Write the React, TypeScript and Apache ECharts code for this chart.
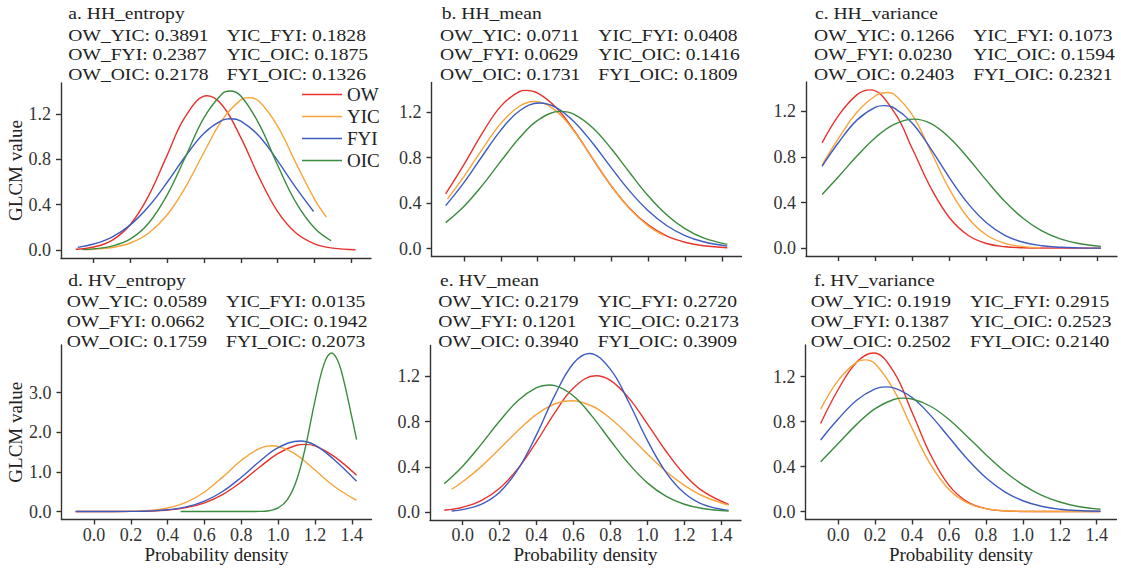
import React, { useEffect, useRef } from 'react';
import * as echarts from 'echarts';

// ---------- data ----------
const NAMES = ['OW', 'YIC', 'FYI', 'OIC'];
const COLORS = ['#E8322C', '#F7A43B', '#3D5BC0', '#3B8B3F'];
const X_TICKS = [0, 0.2, 0.4, 0.6, 0.8, 1.0, 1.2, 1.4];
const Y_TICKS_STD = [0, 0.4, 0.8, 1.2];
const Y_TICKS_D = [0, 1, 2, 3];
const TITLES = ['a. HH_entropy', 'b. HH_mean', 'c. HH_variance', 'd. HV_entropy', 'e. HV_mean', 'f. HV_variance'];

const STATS_A = ['OW_YIC: 0.3891', 'YIC_FYI: 0.1828', 'OW_FYI: 0.2387', 'YIC_OIC: 0.1875', 'OW_OIC: 0.2178', 'FYI_OIC: 0.1326'];
const STATS_B = ['OW_YIC: 0.0711', 'YIC_FYI: 0.0408', 'OW_FYI: 0.0629', 'YIC_OIC: 0.1416', 'OW_OIC: 0.1731', 'FYI_OIC: 0.1809'];
const STATS_C = ['OW_YIC: 0.1266', 'YIC_FYI: 0.1073', 'OW_FYI: 0.0230', 'YIC_OIC: 0.1594', 'OW_OIC: 0.2403', 'FYI_OIC: 0.2321'];
const STATS_D = ['OW_YIC: 0.0589', 'YIC_FYI: 0.0135', 'OW_FYI: 0.0662', 'YIC_OIC: 0.1942', 'OW_OIC: 0.1759', 'FYI_OIC: 0.2073'];
const STATS_E = ['OW_YIC: 0.2179', 'YIC_FYI: 0.2720', 'OW_FYI: 0.1201', 'YIC_OIC: 0.2173', 'OW_OIC: 0.3940', 'FYI_OIC: 0.3909'];
const STATS_F = ['OW_YIC: 0.1919', 'YIC_FYI: 0.2915', 'OW_FYI: 0.1387', 'YIC_OIC: 0.2523', 'OW_OIC: 0.2502', 'FYI_OIC: 0.2140'];

// a. HH_entropy
const HHE_OW = [[-0.097, 0.007], [0, 0.027], [0.1, 0.086], [0.2, 0.226], [0.3, 0.482], [0.4, 0.838], [0.5, 1.182], [0.617, 1.362], [0.7, 1.276], [0.8, 0.992], [0.9, 0.639], [1.0, 0.34], [1.1, 0.15], [1.2, 0.055], [1.3, 0.017], [1.423, 0.003]];
const HHE_YIC = [[-0.05, 0.004], [0, 0.007], [0.1, 0.022], [0.2, 0.062], [0.3, 0.15], [0.4, 0.311], [0.5, 0.558], [0.6, 0.863], [0.7, 1.151], [0.8, 1.325], [0.845, 1.345], [0.9, 1.31], [1.0, 1.092], [1.1, 0.765], [1.2, 0.45], [1.265, 0.29]];
const HHE_FYI = [[-0.086, 0.024], [0, 0.053], [0.1, 0.115], [0.2, 0.222], [0.3, 0.386], [0.4, 0.598], [0.5, 0.83], [0.6, 1.031], [0.7, 1.146], [0.745, 1.159], [0.8, 1.138], [0.9, 1.005], [1.0, 0.787], [1.1, 0.548], [1.195, 0.34]];
const HHE_OIC = [[-0.06, 0.004], [0, 0.01], [0.1, 0.034], [0.2, 0.098], [0.3, 0.239], [0.4, 0.487], [0.5, 0.826], [0.6, 1.169], [0.7, 1.382], [0.742, 1.404], [0.8, 1.36], [0.9, 1.109], [1.0, 0.748], [1.1, 0.418], [1.2, 0.194], [1.29, 0.082]];

// b. HH_mean
const HHM_OW = [[-0.1, 0.481], [0, 0.74], [0.1, 1.017], [0.2, 1.252], [0.3, 1.379], [0.337, 1.39], [0.4, 1.366], [0.5, 1.239], [0.6, 1.031], [0.7, 0.786], [0.8, 0.55], [0.9, 0.353], [1.0, 0.208], [1.1, 0.112], [1.2, 0.056], [1.3, 0.025], [1.43, 0.008]];
const HHM_YIC = [[-0.09, 0.436], [0, 0.634], [0.1, 0.877], [0.2, 1.1], [0.3, 1.251], [0.382, 1.293], [0.5, 1.208], [0.6, 1.025], [0.7, 0.789], [0.8, 0.551], [0.9, 0.349], [1.0, 0.2], [1.085, 0.116]];
const HHM_FYI = [[-0.1, 0.378], [0, 0.582], [0.1, 0.816], [0.2, 1.041], [0.3, 1.209], [0.409, 1.279], [0.5, 1.239], [0.6, 1.111], [0.7, 0.923], [0.8, 0.709], [0.9, 0.505], [1.0, 0.332], [1.1, 0.203], [1.2, 0.114], [1.3, 0.06], [1.43, 0.022]];
const HHM_OIC = [[-0.1, 0.228], [0, 0.372], [0.1, 0.558], [0.2, 0.768], [0.3, 0.971], [0.4, 1.127], [0.526, 1.206], [0.6, 1.178], [0.7, 1.06], [0.8, 0.877], [0.9, 0.666], [1.0, 0.464], [1.1, 0.297], [1.2, 0.175], [1.3, 0.094], [1.43, 0.037]];

// c. HH_variance
const HHV_OW = [[-0.09, 0.923], [0, 1.165], [0.1, 1.347], [0.171, 1.388], [0.3, 1.195], [0.4, 0.867], [0.5, 0.525], [0.6, 0.266], [0.7, 0.113], [0.8, 0.04], [0.9, 0.012], [1.0, 0.003], [1.2, 0.0], [1.42, 0.0]];
const HHV_YIC = [[-0.09, 0.731], [0, 0.965], [0.1, 1.194], [0.2, 1.337], [0.264, 1.365], [0.3, 1.35], [0.4, 1.164], [0.5, 0.845], [0.6, 0.516], [0.7, 0.266], [0.8, 0.115], [0.9, 0.042], [1.0, 0.013], [1.09, 0.003]];
const HHV_FYI = [[-0.09, 0.718], [0, 0.929], [0.1, 1.125], [0.2, 1.237], [0.246, 1.25], [0.3, 1.23], [0.4, 1.094], [0.5, 0.869], [0.6, 0.617], [0.7, 0.392], [0.8, 0.222], [0.9, 0.112], [1.0, 0.051], [1.1, 0.021], [1.2, 0.007], [1.3, 0.002], [1.42, 0.0]];
const HHV_OIC = [[-0.09, 0.47], [0, 0.628], [0.1, 0.81], [0.2, 0.971], [0.3, 1.086], [0.408, 1.132], [0.5, 1.092], [0.6, 0.969], [0.7, 0.791], [0.8, 0.594], [0.9, 0.409], [1.0, 0.26], [1.1, 0.151], [1.2, 0.081], [1.3, 0.04], [1.42, 0.015]];

// d. HV_entropy
const HVE_OW = [[-0.1, 0], [0, 0], [0.1, 0], [0.2, 0.004], [0.3, 0.013], [0.4, 0.038], [0.5, 0.098], [0.6, 0.221], [0.7, 0.436], [0.8, 0.749], [0.9, 1.123], [1.0, 1.467], [1.1, 1.672], [1.145, 1.695], [1.2, 1.656], [1.3, 1.405], [1.426, 0.915]];
const HVE_YIC = [[-0.1, 0], [0, 0], [0.1, 0.002], [0.2, 0.008], [0.3, 0.03], [0.4, 0.091], [0.5, 0.232], [0.6, 0.494], [0.7, 0.875], [0.8, 1.293], [0.9, 1.596], [0.966, 1.66], [1.0, 1.644], [1.1, 1.428], [1.2, 1.048], [1.3, 0.65], [1.426, 0.28]];
const HVE_FYI = [[-0.1, 0], [0, 0], [0.1, 0], [0.2, 0.004], [0.3, 0.015], [0.4, 0.045], [0.5, 0.117], [0.6, 0.263], [0.7, 0.513], [0.8, 0.866], [0.9, 1.269], [1.0, 1.612], [1.118, 1.78], [1.2, 1.677], [1.3, 1.326], [1.426, 0.763]];
const HVE_OIC = [[0.47, 0], [0.6, 0], [0.7, 0], [0.8, 0], [0.9, 0.004], [0.95, 0.022], [1.0, 0.091], [1.05, 0.3], [1.1, 0.791], [1.15, 1.666], [1.2, 2.793], [1.25, 3.73], [1.29, 4.0], [1.32, 3.84], [1.35, 3.42], [1.4, 2.383], [1.426, 1.815]];

// e. HV_mean
const HVM_OW = [[-0.1, 0.016], [0, 0.043], [0.1, 0.101], [0.2, 0.211], [0.3, 0.386], [0.4, 0.622], [0.5, 0.881], [0.6, 1.098], [0.721, 1.206], [0.8, 1.165], [0.9, 1.008], [1.0, 0.78], [1.1, 0.54], [1.2, 0.334], [1.3, 0.185], [1.44, 0.067]];
const HVM_YIC = [[-0.06, 0.202], [0, 0.268], [0.1, 0.402], [0.2, 0.56], [0.3, 0.722], [0.4, 0.864], [0.5, 0.958], [0.586, 0.985], [0.7, 0.938], [0.8, 0.828], [0.9, 0.678], [1.0, 0.514], [1.1, 0.361], [1.2, 0.236], [1.3, 0.142], [1.44, 0.062]];
const HVM_FYI = [[-0.06, 0.01], [0, 0.022], [0.1, 0.068], [0.2, 0.176], [0.3, 0.379], [0.4, 0.685], [0.5, 1.037], [0.6, 1.316], [0.685, 1.403], [0.8, 1.262], [0.9, 0.969], [1.0, 0.634], [1.1, 0.354], [1.2, 0.168], [1.3, 0.068], [1.44, 0.015]];
const HVM_OIC = [[-0.1, 0.251], [0, 0.406], [0.1, 0.599], [0.2, 0.805], [0.3, 0.986], [0.4, 1.1], [0.468, 1.124], [0.5, 1.118], [0.6, 1.027], [0.7, 0.849], [0.8, 0.633], [0.9, 0.426], [1.0, 0.258], [1.1, 0.141], [1.2, 0.069], [1.3, 0.031], [1.44, 0.008]];

// f. HV_variance
const HVV_OW = [[-0.095, 0.783], [0, 1.085], [0.1, 1.328], [0.192, 1.41], [0.3, 1.243], [0.4, 0.883], [0.5, 0.505], [0.6, 0.233], [0.7, 0.086], [0.8, 0.026], [0.9, 0.006], [1.0, 0.001], [1.2, 0], [1.42, 0]];
const HVV_YIC = [[-0.095, 0.91], [0, 1.166], [0.1, 1.328], [0.147, 1.348], [0.2, 1.313], [0.3, 1.083], [0.4, 0.74], [0.5, 0.419], [0.6, 0.197], [0.7, 0.077], [0.8, 0.025], [0.9, 0.007], [1.0, 0.002], [1.2, 0], [1.42, 0]];
const HVV_FYI = [[-0.095, 0.636], [0, 0.822], [0.1, 0.99], [0.2, 1.091], [0.259, 1.108], [0.3, 1.1], [0.4, 1.014], [0.5, 0.855], [0.6, 0.66], [0.7, 0.466], [0.8, 0.301], [0.9, 0.178], [1.0, 0.096], [1.1, 0.047], [1.2, 0.021], [1.3, 0.009], [1.42, 0.003]];
const HVV_OIC = [[-0.095, 0.443], [0, 0.605], [0.1, 0.775], [0.2, 0.915], [0.3, 0.996], [0.354, 1.008], [0.4, 1.001], [0.5, 0.936], [0.6, 0.818], [0.7, 0.666], [0.8, 0.506], [0.9, 0.359], [1.0, 0.238], [1.1, 0.147], [1.2, 0.085], [1.3, 0.045], [1.42, 0.02]];

const PANEL_SERIES = [
  [HHE_OW, HHE_YIC, HHE_FYI, HHE_OIC],
  [HHM_OW, HHM_YIC, HHM_FYI, HHM_OIC],
  [HHV_OW, HHV_YIC, HHV_FYI, HHV_OIC],
  [HVE_OW, HVE_YIC, HVE_FYI, HVE_OIC],
  [HVM_OW, HVM_YIC, HVM_FYI, HVM_OIC],
  [HVV_OW, HVV_YIC, HVV_FYI, HVV_OIC],
];
const PANEL_STATS = [STATS_A, STATS_B, STATS_C, STATS_D, STATS_E, STATS_F];
const PANEL_YTICKS = [Y_TICKS_STD, Y_TICKS_STD, Y_TICKS_STD, Y_TICKS_D, Y_TICKS_STD, Y_TICKS_STD];

// ---------- layout ----------
const GRIDS = [
  { left: 61, top: 83, width: 310, height: 175 },
  { left: 431.5, top: 82.5, width: 310, height: 174 },
  { left: 806, top: 82, width: 311, height: 174 },
  { left: 61.5, top: 345, width: 310, height: 174.5 },
  { left: 430, top: 345.5, width: 311, height: 174.5 },
  { left: 805.5, top: 345, width: 311, height: 174.5 },
];
const TITLE_POS = [[68.3, 12.8], [441.7, 12.8], [815, 12.8], [68.3, 279.5], [440, 279.5], [814, 279.5]];
const COL_X = [[68.3, 226.7], [440, 598.3], [814, 973.3], [66.7, 226], [438.3, 597.7], [810.7, 970]];
const ROW_Y_TOP = [35, 54.3, 73.5];
const ROW_Y_BOTTOM = [300.7, 320.7, 341];

const FONT = "'Liberation Serif', 'Times New Roman', Times, serif";
const AXIS_COLOR = '#333';

export default function App() {
  const ref = useRef<HTMLDivElement>(null);
  useEffect(() => {
    const chart = echarts.init(ref.current as HTMLDivElement, null, { renderer: 'svg' });
    const grid: any[] = [];
    const xAxis: any[] = [];
    const yAxis: any[] = [];
    const series: any[] = [];
    const graphic: any[] = [];

    for (let p = 0; p < 6; p++) {
      const bottomRow = p >= 3;
      const leftCol = p % 3 === 0;
      grid.push({ ...GRIDS[p], containLabel: false });
      let ymax = 0;
      PANEL_SERIES[p].forEach((s) => s.forEach((pt) => { if (pt[1] > ymax) ymax = pt[1]; }));
      const ymin = -0.05 * ymax;
      const ytop = 1.05 * ymax;
      xAxis.push({
        type: 'value',
        gridIndex: p,
        min: -0.177,
        max: 1.507,
        splitLine: { show: false },
        axisLine: { show: true, onZero: false, lineStyle: { color: AXIS_COLOR, width: 1.4 } },
        axisTick: { show: true, length: 5, customValues: X_TICKS, lineStyle: { color: AXIS_COLOR, width: 1.4 } },
        axisLabel: {
          show: bottomRow,
          customValues: X_TICKS,
          formatter: (v: number) => v.toFixed(1),
          fontFamily: FONT,
          fontSize: 18,
          color: '#333',
          margin: 6,
        },
        name: bottomRow ? 'Probability density' : '',
        nameLocation: 'middle',
        nameGap: 25,
        nameTextStyle: { fontFamily: FONT, fontSize: 19, color: '#222' },
      });
      yAxis.push({
        type: 'value',
        gridIndex: p,
        min: ymin,
        max: ytop,
        splitLine: { show: false },
        axisLine: { show: true, onZero: false, lineStyle: { color: AXIS_COLOR, width: 1.4 } },
        axisTick: { show: true, length: 5, customValues: PANEL_YTICKS[p], lineStyle: { color: AXIS_COLOR, width: 1.4 } },
        axisLabel: {
          customValues: PANEL_YTICKS[p],
          formatter: (v: number) => v.toFixed(1),
          fontFamily: FONT,
          fontSize: 18,
          color: '#333',
          margin: 10,
        },
        name: leftCol ? 'GLCM value' : '',
        nameLocation: 'middle',
        nameGap: 36,
        nameTextStyle: { fontFamily: FONT, fontSize: 19, color: '#222' },
      });
      PANEL_SERIES[p].forEach((data, k) => {
        series.push({
          type: 'line',
          name: NAMES[k],
          xAxisIndex: p,
          yAxisIndex: p,
          data,
          showSymbol: false,
          smooth: 0.4,
          color: COLORS[k],
          lineStyle: { color: COLORS[k], width: 1.4 },
          z: 2,
        });
      });

      // texts
      graphic.push({
        type: 'text',
        x: TITLE_POS[p][0],
        y: TITLE_POS[p][1],
        scaleX: 1.12,
        style: { text: TITLES[p], fontFamily: FONT, fontSize: 17.5, fill: '#222', verticalAlign: 'middle', textVerticalAlign: 'middle' },
      });
      const rows = bottomRow ? ROW_Y_BOTTOM : ROW_Y_TOP;
      PANEL_STATS[p].forEach((txt, i) => {
        const r = Math.floor(i / 2);
        const c = i % 2;
        graphic.push({
          type: 'text',
          x: COL_X[p][c],
          y: rows[r],
          scaleX: 1.12,
          style: { text: txt, fontFamily: FONT, fontSize: 17.5, fill: '#222', verticalAlign: 'middle', textVerticalAlign: 'middle' },
        });
      });
    }

    chart.setOption({
      animation: false,
      backgroundColor: '#fff',
      grid,
      xAxis,
      yAxis,
      series,
      graphic,
      legend: {
        data: NAMES,
        orient: 'vertical',
        left: 297,
        top: 79.5,
        icon: 'rect',
        itemWidth: 40,
        itemHeight: 1.5,
        itemGap: 2,
        textStyle: { fontFamily: FONT, fontSize: 19, color: '#222', lineHeight: 20 },
        selectedMode: false,
      },
    });
    return () => chart.dispose();
  }, []);
  return (
    <div
      ref={ref}
      style={{ position: 'absolute', left: 0, top: 0, width: 1121, height: 574, background: '#fff' }}
    />
  );
}
